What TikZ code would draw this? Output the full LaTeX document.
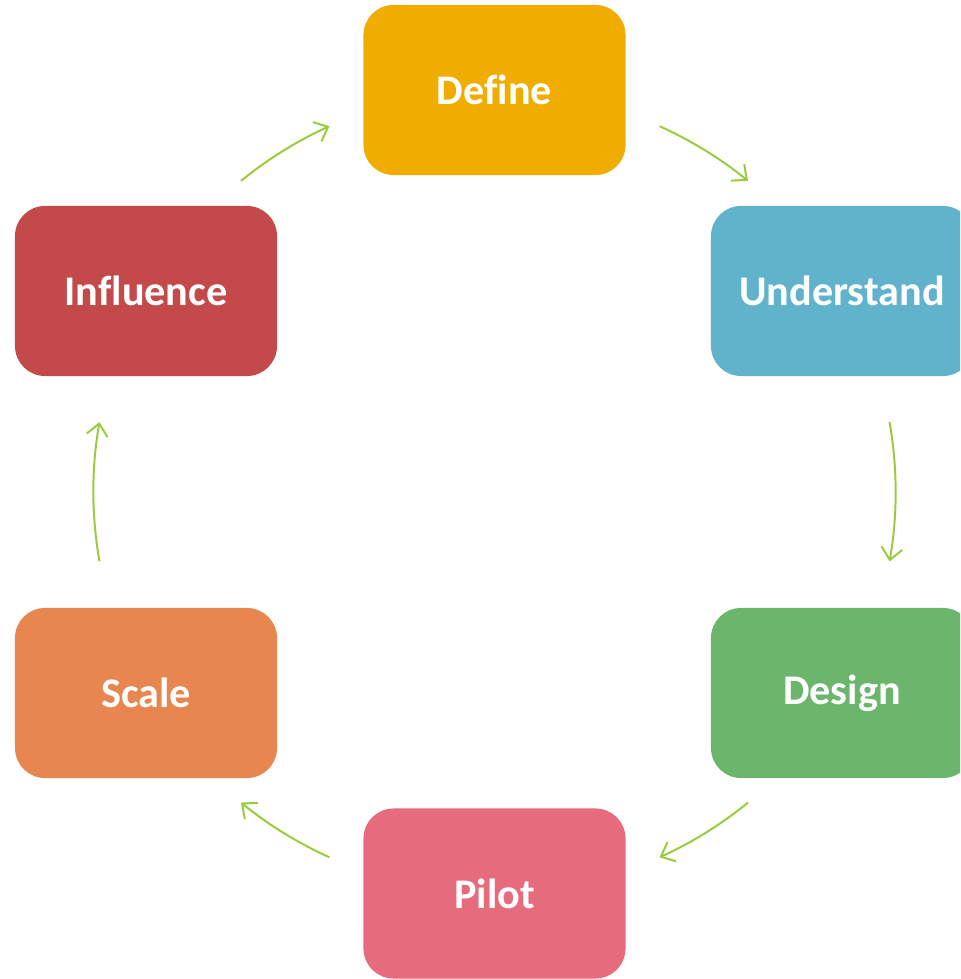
\documentclass[tikz,border=0pt]{standalone}
\usepackage{fontspec}
\setmainfont{Carlito}[Ligatures = NoCommon]
\usepackage{tikz}
\usetikzlibrary{arrows.meta, calc}

\definecolor{defineclr}{HTML}{F0AD00}
\definecolor{understandclr}{HTML}{60B3CA}
\definecolor{designclr}{HTML}{6CB56C}
\definecolor{pilotclr}{HTML}{E56B7D}
\definecolor{scaleclr}{HTML}{E88650}
\definecolor{influenceclr}{HTML}{C4494A}
\definecolor{arrowclr}{HTML}{9ACB3C}

\begin{document}
\begin{tikzpicture}[x=0.025cm, y=0.025cm,
		stagebox/.style = {rectangle, rounded corners = 0.75cm, inner sep = 0pt,
			minimum width = 6.55cm, minimum height = 4.25cm, text = white,
			font = \fontsize{30}{36}\selectfont\bfseries},
		cyclearrow/.style = {draw = arrowclr, line width = 1.4pt,
			-{Straight Barb[length = 8.5pt, width = 15pt, line width = 1.4pt]}}]
			\useasboundingbox (0, 0) rectangle (960, 979);
			\clip (0, 0) rectangle (960, 979);
			% stages
			\node[stagebox, fill = defineclr] (define) at (494.5, 889) {Define};
			\node[stagebox, fill = understandclr] (understand) at (842, 688) {Understand};
			\node[stagebox, fill = designclr] (design) at (842, 286) {Design};
			\node[stagebox, fill = pilotclr] (pilot) at (494.5, 85.5) {Pilot};
			\node[stagebox, fill = scaleclr] (scale) at (146, 286) {Scale};
			\node[stagebox, fill = influenceclr] (influence) at (146, 688) {Influence};
			% cycle centre
			\coordinate (hub) at ($(define)!0.5!(pilot)$);
			% arrows
			\draw[cyclearrow] ($(hub) + (65.7:10.025cm)$) arc [start angle = 65.7, end angle = 50.8, radius = 10.025cm];
			\draw[cyclearrow] ($(hub) + (10:10.025cm)$) arc [start angle = 10, end angle = -10, radius = 10.025cm];
			\draw[cyclearrow] ($(hub) + (-50.8:10.025cm)$) arc [start angle = -50.8, end angle = -65.7, radius = 10.025cm];
			\draw[cyclearrow] ($(hub) + (-114.3:10.025cm)$) arc [start angle = -114.3, end angle = -129.2, radius = 10.025cm];
			\draw[cyclearrow] ($(hub) + (190:10.025cm)$) arc [start angle = 190, end angle = 170, radius = 10.025cm];
			\draw[cyclearrow] ($(hub) + (129.2:10.025cm)$) arc [start angle = 129.2, end angle = 114.3, radius = 10.025cm];
		\end{tikzpicture}
\end{document}
